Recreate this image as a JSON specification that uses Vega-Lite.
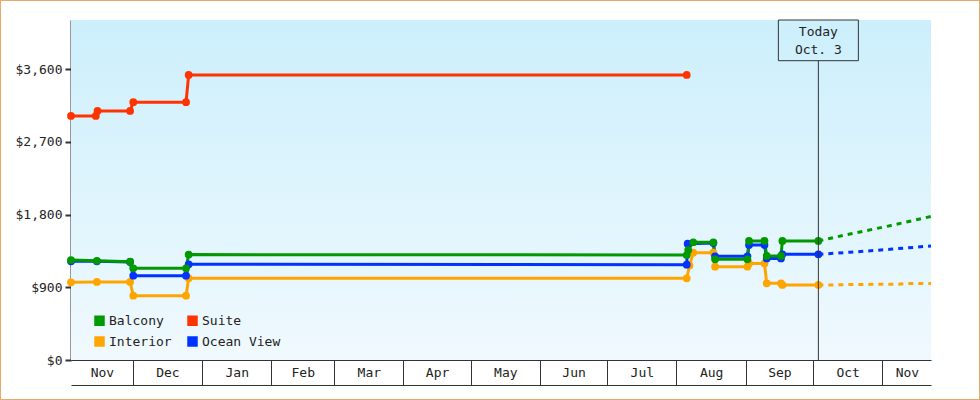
{
  "$schema": "https://vega.github.io/schema/vega-lite/v6.json",
  "width": 980,
  "height": 400,
  "autosize": "none",
  "padding": 0,
  "background": "white",
  "config": {
    "view": {"stroke": "#e9a864", "strokeWidth": 2, "fill": "white"},
    "font": "DejaVu Sans Mono",
    "axis": {"labelFont": "DejaVu Sans Mono", "labelFontSize": 13, "labelColor": "#222", "domainColor": "#333", "tickColor": "#333", "grid": false, "title": null}
  },
  "datasets": {
    "prices": [
      {"d": "2022-11-03T10:00:00Z", "cat": "Interior", "v": 962, "kind": "hist"},
      {"d": "2022-11-15T00:00:00Z", "cat": "Interior", "v": 966, "kind": "hist"},
      {"d": "2022-11-29T20:00:00Z", "cat": "Interior", "v": 966, "kind": "hist"},
      {"d": "2022-12-01T06:00:00Z", "cat": "Interior", "v": 797, "kind": "hist"},
      {"d": "2022-12-24T20:00:00Z", "cat": "Interior", "v": 797, "kind": "hist"},
      {"d": "2022-12-26T00:00:00Z", "cat": "Interior", "v": 1012, "kind": "hist"},
      {"d": "2023-08-05T14:00:00Z", "cat": "Interior", "v": 1012, "kind": "hist"},
      {"d": "2023-08-06T20:00:00Z", "cat": "Interior", "v": 1170, "kind": "hist"},
      {"d": "2023-08-08T12:00:00Z", "cat": "Interior", "v": 1329, "kind": "hist"},
      {"d": "2023-08-17T12:00:00Z", "cat": "Interior", "v": 1329, "kind": "hist"},
      {"d": "2023-08-18T06:00:00Z", "cat": "Interior", "v": 1156, "kind": "hist"},
      {"d": "2023-09-01T17:00:00Z", "cat": "Interior", "v": 1156, "kind": "hist"},
      {"d": "2023-09-02T10:00:00Z", "cat": "Interior", "v": 1195, "kind": "hist"},
      {"d": "2023-09-09T08:00:00Z", "cat": "Interior", "v": 1195, "kind": "hist"},
      {"d": "2023-09-10T08:00:00Z", "cat": "Interior", "v": 950, "kind": "hist"},
      {"d": "2023-09-16T17:00:00Z", "cat": "Interior", "v": 950, "kind": "hist"},
      {"d": "2023-09-17T08:00:00Z", "cat": "Interior", "v": 930, "kind": "hist"},
      {"d": "2023-10-03T10:00:00Z", "cat": "Interior", "v": 930, "kind": "hist"},
      {"d": "2022-11-03T10:00:00Z", "cat": "Ocean View", "v": 1222, "kind": "hist"},
      {"d": "2022-11-15T00:00:00Z", "cat": "Ocean View", "v": 1222, "kind": "hist"},
      {"d": "2022-11-29T20:00:00Z", "cat": "Ocean View", "v": 1215, "kind": "hist"},
      {"d": "2022-12-01T06:00:00Z", "cat": "Ocean View", "v": 1044, "kind": "hist"},
      {"d": "2022-12-24T20:00:00Z", "cat": "Ocean View", "v": 1044, "kind": "hist"},
      {"d": "2022-12-26T00:00:00Z", "cat": "Ocean View", "v": 1185, "kind": "hist"},
      {"d": "2023-08-05T14:00:00Z", "cat": "Ocean View", "v": 1180, "kind": "hist"},
      {"d": "2023-08-06T00:00:00Z", "cat": "Ocean View", "v": 1440, "kind": "hist"},
      {"d": "2023-08-17T12:00:00Z", "cat": "Ocean View", "v": 1448, "kind": "hist"},
      {"d": "2023-08-18T06:00:00Z", "cat": "Ocean View", "v": 1284, "kind": "hist"},
      {"d": "2023-09-01T17:00:00Z", "cat": "Ocean View", "v": 1284, "kind": "hist"},
      {"d": "2023-09-02T10:00:00Z", "cat": "Ocean View", "v": 1424, "kind": "hist"},
      {"d": "2023-09-09T08:00:00Z", "cat": "Ocean View", "v": 1424, "kind": "hist"},
      {"d": "2023-09-10T08:00:00Z", "cat": "Ocean View", "v": 1258, "kind": "hist"},
      {"d": "2023-09-16T17:00:00Z", "cat": "Ocean View", "v": 1258, "kind": "hist"},
      {"d": "2023-09-17T08:00:00Z", "cat": "Ocean View", "v": 1309, "kind": "hist"},
      {"d": "2023-10-03T10:00:00Z", "cat": "Ocean View", "v": 1309, "kind": "hist"},
      {"d": "2022-11-03T10:00:00Z", "cat": "Balcony", "v": 1238, "kind": "hist"},
      {"d": "2022-11-15T00:00:00Z", "cat": "Balcony", "v": 1228, "kind": "hist"},
      {"d": "2022-11-29T20:00:00Z", "cat": "Balcony", "v": 1217, "kind": "hist"},
      {"d": "2022-12-01T06:00:00Z", "cat": "Balcony", "v": 1136, "kind": "hist"},
      {"d": "2022-12-24T20:00:00Z", "cat": "Balcony", "v": 1136, "kind": "hist"},
      {"d": "2022-12-26T00:00:00Z", "cat": "Balcony", "v": 1305, "kind": "hist"},
      {"d": "2023-08-05T14:00:00Z", "cat": "Balcony", "v": 1300, "kind": "hist"},
      {"d": "2023-08-06T06:00:00Z", "cat": "Balcony", "v": 1362, "kind": "hist"},
      {"d": "2023-08-08T12:00:00Z", "cat": "Balcony", "v": 1458, "kind": "hist"},
      {"d": "2023-08-17T12:00:00Z", "cat": "Balcony", "v": 1458, "kind": "hist"},
      {"d": "2023-08-18T06:00:00Z", "cat": "Balcony", "v": 1247, "kind": "hist"},
      {"d": "2023-09-01T17:00:00Z", "cat": "Balcony", "v": 1247, "kind": "hist"},
      {"d": "2023-09-02T10:00:00Z", "cat": "Balcony", "v": 1474, "kind": "hist"},
      {"d": "2023-09-09T08:00:00Z", "cat": "Balcony", "v": 1474, "kind": "hist"},
      {"d": "2023-09-10T08:00:00Z", "cat": "Balcony", "v": 1288, "kind": "hist"},
      {"d": "2023-09-16T17:00:00Z", "cat": "Balcony", "v": 1288, "kind": "hist"},
      {"d": "2023-09-17T08:00:00Z", "cat": "Balcony", "v": 1474, "kind": "hist"},
      {"d": "2023-10-03T10:00:00Z", "cat": "Balcony", "v": 1474, "kind": "hist"},
      {"d": "2022-11-03T10:00:00Z", "cat": "Suite", "v": 3022, "kind": "hist"},
      {"d": "2022-11-14T12:00:00Z", "cat": "Suite", "v": 3022, "kind": "hist"},
      {"d": "2022-11-15T06:00:00Z", "cat": "Suite", "v": 3084, "kind": "hist"},
      {"d": "2022-11-29T20:00:00Z", "cat": "Suite", "v": 3084, "kind": "hist"},
      {"d": "2022-12-01T06:00:00Z", "cat": "Suite", "v": 3192, "kind": "hist"},
      {"d": "2022-12-24T20:00:00Z", "cat": "Suite", "v": 3192, "kind": "hist"},
      {"d": "2022-12-26T00:00:00Z", "cat": "Suite", "v": 3530, "kind": "hist"},
      {"d": "2023-08-05T14:00:00Z", "cat": "Suite", "v": 3530, "kind": "hist"},
      {"d": "2023-10-03T10:00:00Z", "cat": "Interior", "v": 930, "kind": "fc"},
      {"d": "2023-10-10T00:00:00Z", "cat": "Interior", "v": 928, "kind": "fc"},
      {"d": "2023-10-17T12:00:00Z", "cat": "Interior", "v": 936, "kind": "fc"},
      {"d": "2023-11-08T00:00:00Z", "cat": "Interior", "v": 937, "kind": "fc"},
      {"d": "2023-11-12T00:00:00Z", "cat": "Interior", "v": 948, "kind": "fc"},
      {"d": "2023-11-22T18:00:00Z", "cat": "Interior", "v": 948, "kind": "fc"},
      {"d": "2023-10-03T10:00:00Z", "cat": "Ocean View", "v": 1309, "kind": "fc"},
      {"d": "2023-10-17T12:00:00Z", "cat": "Ocean View", "v": 1334, "kind": "fc"},
      {"d": "2023-11-04T10:00:00Z", "cat": "Ocean View", "v": 1371, "kind": "fc"},
      {"d": "2023-11-22T18:00:00Z", "cat": "Ocean View", "v": 1412, "kind": "fc"},
      {"d": "2023-10-03T10:00:00Z", "cat": "Balcony", "v": 1474, "kind": "fc"},
      {"d": "2023-10-17T12:00:00Z", "cat": "Balcony", "v": 1560, "kind": "fc"},
      {"d": "2023-11-04T10:00:00Z", "cat": "Balcony", "v": 1663, "kind": "fc"},
      {"d": "2023-11-22T18:00:00Z", "cat": "Balcony", "v": 1777, "kind": "fc"}
    ],
    "today": [
      {"d": "2023-10-03T10:00:00Z", "label": "Today\nOct. 3"}
    ]
  },
  "layer": [
    {
      "data": {"values": [{}]},
      "mark": {"type": "rect", "stroke": null, "fill": {"gradient": "linear", "x1": 0, "y1": 0, "x2": 0, "y2": 1, "stops": [{"offset": 0, "color": "#cceffc"}, {"offset": 1, "color": "#f0f9fe"}]}},
      "encoding": {
        "x": {"datum": {"year": 2022, "month": 11, "date": 3, "hours": 10, "utc": true}, "type": "temporal",
              "scale": {"type": "utc", "domain": [{"year": 2022, "month": 11, "date": 3, "hours": 10, "utc": true}, {"year": 2023, "month": 11, "date": 22, "hours": 18, "utc": true}], "range": [71, 931]},
              "axis": {"orient": "bottom", "offset": -15, "domain": true, "domainWidth": 1, "ticks": false, "labels": false, "title": null}},
        "x2": {"datum": {"year": 2023, "month": 11, "date": 22, "hours": 18, "utc": true}},
        "y": {"datum": 0, "type": "quantitative", "scale": {"domain": [0, 4210], "range": [360, 20], "nice": false, "zero": true}, "axis": null},
        "y2": {"datum": 4210}
      }
    },
    {
      "data": {"name": "prices"},
      "transform": [{"filter": "datum.kind === 'hist'"}],
      "mark": {"type": "line", "strokeWidth": 3},
      "encoding": {
        "x": {"field": "d", "type": "temporal",
              "scale": {"type": "utc", "domain": [{"year": 2022, "month": 11, "date": 3, "hours": 10, "utc": true}, {"year": 2023, "month": 11, "date": 22, "hours": 18, "utc": true}], "range": [71, 931]},
              "axis": {"orient": "bottom", "offset": -40, "domain": true, "domainWidth": 1, "ticks": true, "tickSize": 25, "tickWidth": 1, "labels": false, "title": null,
                       "values": [
                         {"year": 2022, "month": 12, "date": 1, "utc": true},
                         {"year": 2023, "month": 1, "date": 1, "utc": true},
                         {"year": 2023, "month": 2, "date": 1, "utc": true},
                         {"year": 2023, "month": 3, "date": 1, "utc": true},
                         {"year": 2023, "month": 4, "date": 1, "utc": true},
                         {"year": 2023, "month": 5, "date": 1, "utc": true},
                         {"year": 2023, "month": 6, "date": 1, "utc": true},
                         {"year": 2023, "month": 7, "date": 1, "utc": true},
                         {"year": 2023, "month": 8, "date": 1, "utc": true},
                         {"year": 2023, "month": 9, "date": 1, "utc": true},
                         {"year": 2023, "month": 10, "date": 1, "utc": true},
                         {"year": 2023, "month": 11, "date": 1, "utc": true}
                       ]}},
        "y": {"field": "v", "type": "quantitative", "scale": {"domain": [0, 4210], "range": [360, 20], "nice": false, "zero": true},
              "axis": {"orient": "left", "offset": -71, "values": [0, 900, 1800, 2700, 3600], "format": "$,.0f", "domainWidth": 2, "tickSize": 6, "tickWidth": 2, "labelPadding": 3, "title": null}},
        "color": {"field": "cat", "type": "nominal", "scale": {"domain": ["Balcony", "Suite", "Interior", "Ocean View"], "range": ["#009900", "#ff3300", "#ffa500", "#0033ff"]}, "legend": null}
      }
    },
    {
      "data": {"name": "prices"},
      "transform": [{"filter": "datum.kind === 'fc'"}],
      "mark": {"type": "line", "strokeWidth": 3, "strokeDash": [5, 5]},
      "encoding": {
        "x": {"field": "d", "type": "temporal",
              "scale": {"type": "utc", "domain": [{"year": 2022, "month": 11, "date": 3, "hours": 10, "utc": true}, {"year": 2023, "month": 11, "date": 22, "hours": 18, "utc": true}], "range": [71, 931]},
              "axis": null},
        "y": {"field": "v", "type": "quantitative", "scale": {"domain": [0, 4210], "range": [360, 20], "nice": false, "zero": true}, "axis": null},
        "color": {"field": "cat", "type": "nominal", "scale": {"domain": ["Balcony", "Suite", "Interior", "Ocean View"], "range": ["#009900", "#ff3300", "#ffa500", "#0033ff"]}, "legend": null}
      }
    },
    {
      "data": {"name": "prices"},
      "transform": [{"filter": "datum.kind === 'hist'"}],
      "mark": {"type": "point", "filled": true, "shape": "circle", "size": 60, "opacity": 1},
      "encoding": {
        "x": {"field": "d", "type": "temporal",
              "scale": {"type": "utc", "domain": [{"year": 2022, "month": 11, "date": 3, "hours": 10, "utc": true}, {"year": 2023, "month": 11, "date": 22, "hours": 18, "utc": true}], "range": [71, 931]},
              "axis": {"orient": "bottom", "offset": -40, "domain": false, "ticks": false, "tickSize": 0, "labelPadding": 6, "labelAlign": "center", "labelBaseline": "top", "labelFlush": false, "labelOverlap": false, "title": null,
                       "labelExpr": "utcFormat(datum.value, '%b')",
                       "values": [
                         {"year": 2022, "month": 11, "date": 17, "hours": 6, "utc": true},
                         {"year": 2022, "month": 12, "date": 16, "hours": 12, "utc": true},
                         {"year": 2023, "month": 1, "date": 16, "hours": 12, "utc": true},
                         {"year": 2023, "month": 2, "date": 15, "utc": true},
                         {"year": 2023, "month": 3, "date": 16, "hours": 12, "utc": true},
                         {"year": 2023, "month": 4, "date": 16, "utc": true},
                         {"year": 2023, "month": 5, "date": 16, "hours": 12, "utc": true},
                         {"year": 2023, "month": 6, "date": 16, "utc": true},
                         {"year": 2023, "month": 7, "date": 16, "hours": 12, "utc": true},
                         {"year": 2023, "month": 8, "date": 16, "hours": 12, "utc": true},
                         {"year": 2023, "month": 9, "date": 16, "utc": true},
                         {"year": 2023, "month": 10, "date": 16, "hours": 12, "utc": true},
                         {"year": 2023, "month": 11, "date": 12, "utc": true}
                       ]}},
        "y": {"field": "v", "type": "quantitative", "scale": {"domain": [0, 4210], "range": [360, 20], "nice": false, "zero": true}, "axis": null},
        "color": {"field": "cat", "type": "nominal", "sort": ["Balcony", "Suite", "Interior", "Ocean View"], "scale": {"domain": ["Balcony", "Suite", "Interior", "Ocean View"], "range": ["#009900", "#ff3300", "#ffa500", "#0033ff"]},
                  "legend": {"orient": "none", "legendX": 93, "legendY": 314, "direction": "horizontal", "columns": 2, "values": ["Balcony", "Suite", "Interior", "Ocean View"], "symbolType": "square", "symbolSize": 110, "symbolStrokeWidth": 0, "symbolOpacity": 1,
                             "labelFont": "DejaVu Sans Mono", "labelFontSize": 13, "labelColor": "#222", "labelOffset": 3, "columnPadding": 14, "rowPadding": 7, "title": null, "padding": 0}}
      }
    },
    {
      "data": {"name": "today"},
      "mark": {"type": "rule", "color": "#333", "strokeWidth": 1},
      "encoding": {
        "x": {"field": "d", "type": "temporal",
              "scale": {"type": "utc", "domain": [{"year": 2022, "month": 11, "date": 3, "hours": 10, "utc": true}, {"year": 2023, "month": 11, "date": 22, "hours": 18, "utc": true}], "range": [71, 931]},
              "axis": null},
        "y": {"datum": 3706, "type": "quantitative", "scale": {"domain": [0, 4210], "range": [360, 20], "nice": false, "zero": true}, "axis": null},
        "y2": {"datum": 0}
      }
    },
    {
      "data": {"name": "today"},
      "mark": {"type": "rect", "width": 80, "fill": "transparent", "stroke": "#333", "strokeWidth": 1},
      "encoding": {
        "x": {"field": "d", "type": "temporal",
              "scale": {"type": "utc", "domain": [{"year": 2022, "month": 11, "date": 3, "hours": 10, "utc": true}, {"year": 2023, "month": 11, "date": 22, "hours": 18, "utc": true}], "range": [71, 931]},
              "axis": null},
        "y": {"datum": 4210, "type": "quantitative", "scale": {"domain": [0, 4210], "range": [360, 20], "nice": false, "zero": true}, "axis": null},
        "y2": {"datum": 3706}
      }
    },
    {
      "data": {"name": "today"},
      "mark": {"type": "text", "lineBreak": "\n", "lineHeight": 18, "font": "DejaVu Sans Mono", "fontSize": 13, "color": "#222", "baseline": "middle", "align": "center"},
      "encoding": {
        "x": {"field": "d", "type": "temporal",
              "scale": {"type": "utc", "domain": [{"year": 2022, "month": 11, "date": 3, "hours": 10, "utc": true}, {"year": 2023, "month": 11, "date": 22, "hours": 18, "utc": true}], "range": [71, 931]},
              "axis": null},
        "y": {"datum": 4058, "type": "quantitative", "scale": {"domain": [0, 4210], "range": [360, 20], "nice": false, "zero": true}, "axis": null},
        "text": {"field": "label"}
      }
    }
  ],
  "resolve": {"axis": {"x": "independent", "y": "independent"}, "legend": {"color": "independent"}}
}
